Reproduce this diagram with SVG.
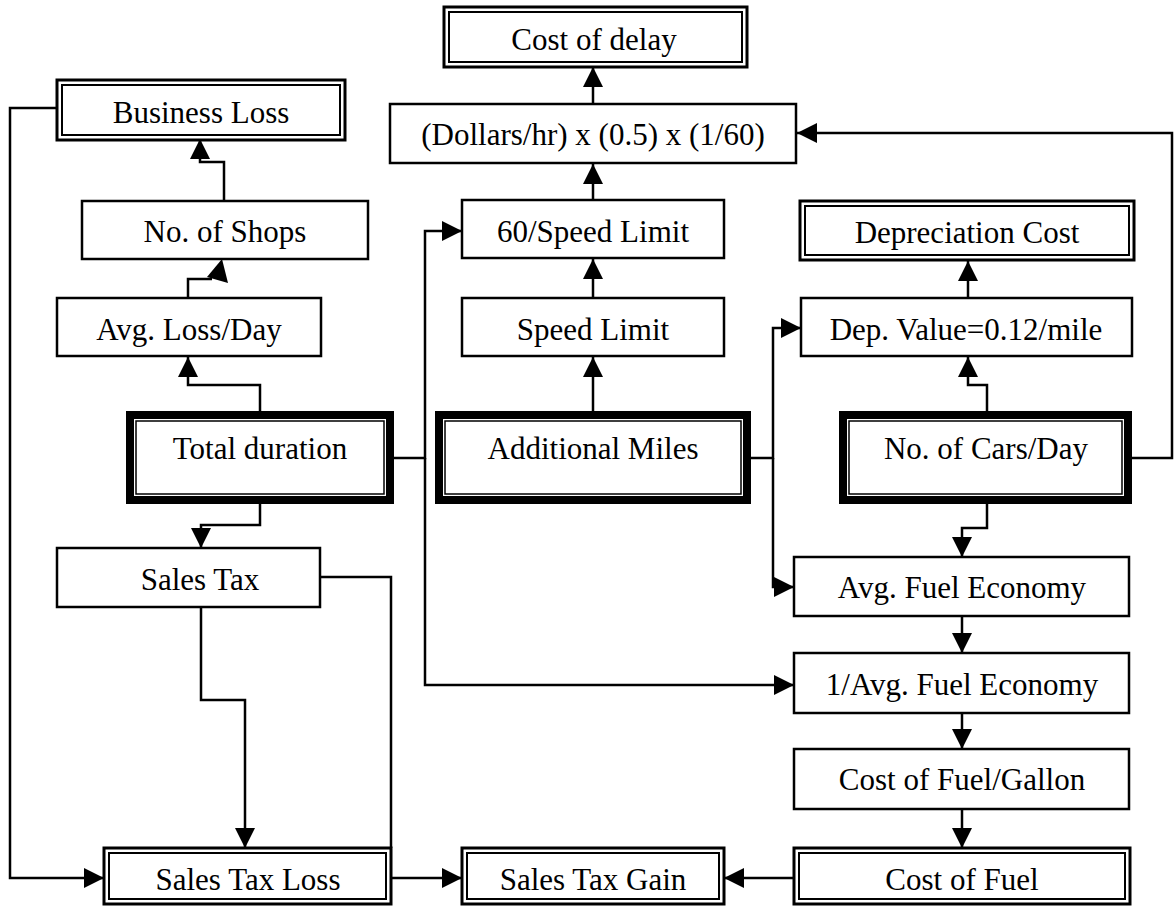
<svg xmlns="http://www.w3.org/2000/svg" width="1175" height="906" viewBox="0 0 1175 906">
<defs>
<marker id="ah" markerUnits="userSpaceOnUse" markerWidth="20" markerHeight="20" refX="20" refY="10" orient="auto">
<path d="M0,0 L20,10 L0,20 z" fill="#000"/>
</marker>
<style>
.b{fill:#fff;stroke:#000;stroke-width:2.5}
.o{fill:#fff;stroke:#000;stroke-width:3}
.i{fill:none;stroke:#000;stroke-width:2}
.to{fill:#fff;stroke:#000;stroke-width:8}
.ti{fill:none;stroke:#000;stroke-width:1.5}
.c{fill:none;stroke:#000;stroke-width:2.5}
.a{marker-end:url(#ah)}
text{font-family:"Liberation Serif","Times New Roman",serif;font-size:31px;fill:#000;text-anchor:middle}
</style>
</defs>
<rect width="1175" height="906" fill="#fff"/>

<g id="connectors">
<path class="c a" d="M593,103 V67"/>
<path class="c a" d="M593,200 V164"/>
<path class="c a" d="M593,298 V259"/>
<path class="c a" d="M593,411 V357"/>
<path class="c a" d="M394,458 H425 V231 H462"/>
<path class="c a" d="M425,458 V685 H794"/>
<path class="c a" d="M751,458 H773 V328 H801"/>
<path class="c a" d="M773,458 V587 H794"/>
<path class="c a" d="M1132,458 H1172 V133 H797"/>
<path class="c a" d="M987,411 V385 H968 V357"/>
<path class="c a" d="M968,298 V261"/>
<path class="c a" d="M987,504 V528 H962 V557"/>
<path class="c a" d="M962,616 V653"/>
<path class="c a" d="M962,713 V749"/>
<path class="c a" d="M962,809 V848"/>
<path class="c a" d="M794,878 H724"/>
<path class="c a" d="M391,878 H462"/>
<path class="c a" d="M57,108 H10 V878 H104"/>
<path class="c a" d="M201,607 V700 H245 V848"/>
<path class="c" d="M320,577 H391 V848"/>
<path class="c a" d="M260,411 V385 H188 V357"/>
<path class="c" d="M188,298 V279 H212"/>
<polygon points="207,277 228,283 222,259" fill="#000"/>
<path class="c a" d="M224,201 V162 H200 V139"/>
<path class="c a" d="M260,504 V525 H201 V548"/>
</g>

<g id="cost-of-delay">
<rect class="o" x="444" y="7" width="303" height="60"/>
<rect class="i" x="449" y="12" width="293" height="50"/>
<text x="594" y="50">Cost of delay</text>
</g>

<g id="business-loss">
<rect class="o" x="57" y="80" width="288" height="60"/>
<rect class="i" x="62" y="85" width="278" height="50"/>
<text x="201" y="123">Business Loss</text>
</g>

<g id="dollars-hr">
<rect class="b" x="390" y="104" width="406" height="59"/>
<text x="593" y="145">(Dollars/hr) x (0.5) x (1/60)</text>
</g>

<g id="no-of-shops">
<rect class="b" x="82" y="201" width="286" height="58"/>
<text x="225" y="242">No. of Shops</text>
</g>

<g id="sixty-speed-limit">
<rect class="b" x="462" y="200" width="262" height="58"/>
<text x="593" y="242">60/Speed Limit</text>
</g>

<g id="depreciation-cost">
<rect class="o" x="800" y="201" width="334" height="59"/>
<rect class="i" x="805" y="206" width="324" height="49"/>
<text x="967" y="243">Depreciation Cost</text>
</g>

<g id="avg-loss-day">
<rect class="b" x="57" y="298" width="264" height="58"/>
<text x="189" y="340">Avg. Loss/Day</text>
</g>

<g id="speed-limit">
<rect class="b" x="462" y="298" width="262" height="58"/>
<text x="593" y="340">Speed Limit</text>
</g>

<g id="dep-value">
<rect class="b" x="801" y="298" width="331" height="58"/>
<text x="966" y="340">Dep. Value=0.12/mile</text>
</g>

<g id="total-duration">
<rect class="to" x="130" y="415" width="260" height="85"/>
<rect class="ti" x="136" y="421" width="248" height="73"/>
<text x="260" y="459">Total duration</text>
</g>

<g id="additional-miles">
<rect class="to" x="439" y="415" width="308" height="85"/>
<rect class="ti" x="445" y="421" width="296" height="73"/>
<text x="593" y="459">Additional Miles</text>
</g>

<g id="no-of-cars-day">
<rect class="to" x="843" y="415" width="285" height="85"/>
<rect class="ti" x="849" y="421" width="273" height="73"/>
<text x="986" y="459">No. of Cars/Day</text>
</g>

<g id="sales-tax">
<rect class="b" x="57" y="548" width="263" height="59"/>
<text x="200" y="590">Sales Tax</text>
</g>

<g id="avg-fuel-economy">
<rect class="b" x="794" y="557" width="335" height="59"/>
<text x="962" y="598">Avg. Fuel Economy</text>
</g>

<g id="inv-avg-fuel-economy">
<rect class="b" x="794" y="653" width="335" height="60"/>
<text x="962" y="695">1/Avg. Fuel Economy</text>
</g>

<g id="cost-of-fuel-gallon">
<rect class="b" x="794" y="749" width="335" height="60"/>
<text x="962" y="790">Cost of Fuel/Gallon</text>
</g>

<g id="sales-tax-loss">
<rect class="o" x="104" y="848" width="287" height="56"/>
<rect class="i" x="109" y="853" width="277" height="46"/>
<text x="248" y="890">Sales Tax Loss</text>
</g>

<g id="sales-tax-gain">
<rect class="o" x="462" y="848" width="262" height="56"/>
<rect class="i" x="467" y="853" width="252" height="46"/>
<text x="593" y="890">Sales Tax Gain</text>
</g>

<g id="cost-of-fuel">
<rect class="o" x="794" y="848" width="336" height="56"/>
<rect class="i" x="799" y="853" width="326" height="46"/>
<text x="962" y="890">Cost of Fuel</text>
</g>
</svg>
